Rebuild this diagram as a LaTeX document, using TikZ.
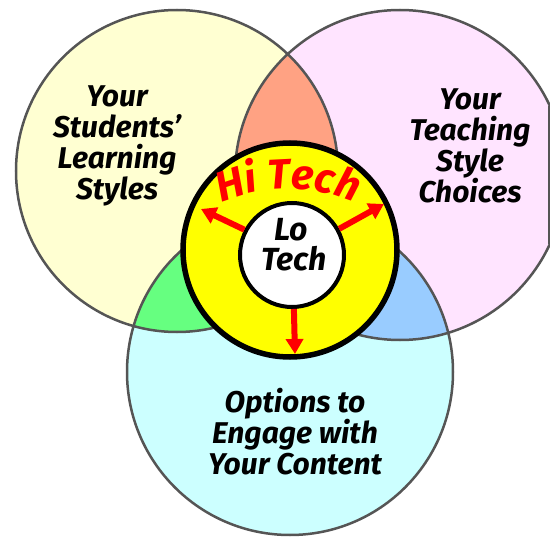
\documentclass[tikz,border=0pt]{standalone}
\usepackage{fontspec}
\setmainfont{Fira Sans}
\usetikzlibrary{arrows.meta,decorations.text}
\definecolor{cL}{HTML}{FFFFD2}
\definecolor{cR}{HTML}{FFE4FF}
\definecolor{cB}{HTML}{CCFFFF}
\definecolor{cLR}{HTML}{FFA283}
\definecolor{cLB}{HTML}{66FF80}
\definecolor{cRB}{HTML}{99CCFF}
\definecolor{edgegrey}{HTML}{555555}
\definecolor{ringyellow}{HTML}{FFFF00}
\definecolor{arrowred}{HTML}{FF0000}
\newcommand{\hifont}{\fontsize{42}{42}\selectfont\bfseries\itshape\color{arrowred}}
\begin{document}
\begin{tikzpicture}[x=1pt,y=-1pt,
  venn/.style={draw=edgegrey,line width=2.5pt},
  lbl/.style={font=\fontsize{30}{31}\selectfont\bfseries\itshape,align=center,text=black,inner sep=0pt},
  lotxt/.style={font=\fontsize{32}{30}\selectfont\bfseries\itshape,align=center,text=black,inner sep=0pt},
  ringnode/.style={circle,fill=ringyellow,draw=black,line width=5.5pt,inner sep=0pt,minimum size=214pt},
  corenode/.style={circle,fill=white,draw=black,line width=4pt,inner sep=0pt,minimum size=104pt},
  redarrow/.style={draw=arrowred,line width=6pt,-{Triangle[width=17pt,length=15pt]}}
]
\useasboundingbox (0,0) rectangle (550,538);
\begin{scope}
  \clip (0,0) rectangle (550,538);
  \fill[cL] (177,171) circle (161pt);
  \fill[cR] (400,175) circle (165pt);
  \fill[cB] (290,372) circle (163pt);
  \begin{scope}
    \clip (177,171) circle (161pt);
    \fill[cLR] (400,175) circle (165pt);
    \fill[cLB] (290,372) circle (163pt);
  \end{scope}
  \begin{scope}
    \clip (400,175) circle (165pt);
    \fill[cRB] (290,372) circle (163pt);
  \end{scope}
  \draw[venn] (177,171) circle (161pt);
  \draw[venn] (400,175) circle (165pt);
  \draw[venn] (290,372) circle (163pt);
  \draw[venn] (548.8,106) -- (548.8,244);
\end{scope}

\node[lbl] (students) at (117,146) {Your\\Students'\\Learning\\Styles};
\node[lbl] (teaching) at (470,146) {Your\\Teaching\\Style\\Choices};
\node[lbl] (options) at (295,432) {Options to\\Engage with\\Your Content};

\node[ringnode] (hi) at (290,250) {};
\node[corenode] (lo) at (292,255) {};
\node[lotxt] (lotech) at (291,245) {Lo\\\hspace*{6pt}Tech};

\path[decorate,decoration={text along path,text align=center,text={|\hifont|Hi Tech}}]
  (210,208) .. controls (259,182.5) and (317,182.5) .. (366,208);

\coordinate (tipL) at (201,209);
\coordinate (tipR) at (384,204);
\coordinate (tipD) at (295,354);
\draw[redarrow] (lo.152) -- (tipL);
\draw[redarrow] (lo.29) -- (tipR);
\draw[redarrow] (lo.272) -- (tipD);
\end{tikzpicture}
\end{document}
